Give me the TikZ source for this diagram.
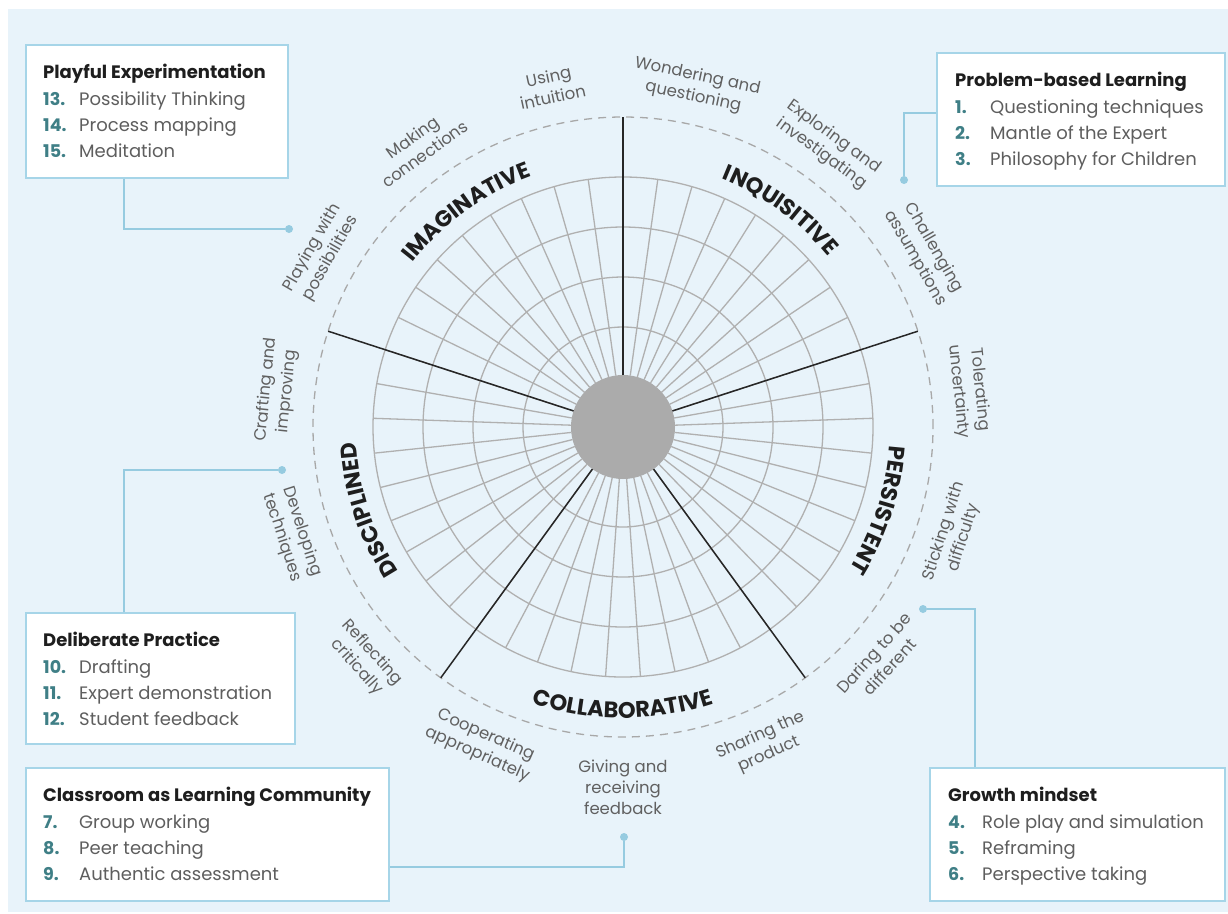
\documentclass[tikz,border=0pt]{standalone}
\usepackage{fontspec}
\setmainfont{Poppins}
\usetikzlibrary{decorations.text}
\definecolor{bgc}{HTML}{E8F3FA}
\definecolor{boxc}{HTML}{A6D5E8}
\definecolor{connc}{HTML}{96CBE0}
\definecolor{tealc}{HTML}{3F7F86}
\definecolor{itemc}{HTML}{5E5E5E}
\definecolor{headc}{HTML}{1E1E1E}
\definecolor{subc}{HTML}{606060}
\definecolor{gridc}{HTML}{B0B0B0}
\definecolor{discc}{HTML}{ABABAB}
\definecolor{dashc}{HTML}{A8A8A8}
\newcommand\bigfont{\fontsize{22.5}{22.5}\selectfont\bfseries}
\tikzset{
  gridline/.style={draw=gridc, line width=1.3pt},
  sectorline/.style={draw=black!85, line width=1.5pt},
  dashring/.style={draw=dashc, line width=1.3pt, dash pattern=on 8pt off 6pt},
  panel/.style={draw=boxc, fill=white, line width=1.5pt, anchor=north west, inner sep=0pt},
  conn/.style={draw=connc, line width=1.5pt},
  cdot/.style={circle, fill=connc, inner sep=0pt, minimum size=8pt},
  head/.style={anchor=base west, inner sep=0pt, font=\fontsize{18}{18}\selectfont\bfseries, text=headc},
  num/.style={anchor=base west, inner sep=0pt, font=\fontsize{17.5}{17.5}\selectfont\bfseries, text=tealc},
  item/.style={anchor=base west, inner sep=0pt, font=\fontsize{18}{18}\selectfont, text=itemc},
  sub/.style={align=center, inner sep=0pt, font=\fontsize{16.5}{21}\selectfont, text=subc},
  arclabel/.style={decorate, decoration={text along path, text align=center, text color=headc, text={|\bigfont|#1}}},
}
\newcommand\prow[6]{% name, xnum, xtext, baseline, number, text
  \node[num] (#1n) at (#2,-#4) {#5};
  \node[item] (#1t) at (#3,-#4) {#6};}
\begin{document}
\begin{tikzpicture}[x=1pt,y=1pt]
\useasboundingbox (0,0) rectangle (1228,-913);
\fill[bgc] (8,-9) rectangle (1228,-912);

% ---------- wheel ----------
\begin{scope}[shift={(623,-427)}]
  \foreach \k in {0,...,44} \draw[gridline] (90+8*\k:52) -- (90+8*\k:250);
  \foreach \r in {100,150,200,250} \draw[gridline] (0,0) circle (\r);
  \fill[discc] (0,0) circle (52);
  \draw[dashring] (0,0) circle (310);
  \foreach \a in {90,18,-54,-126,162} \draw[sectorline] (\a:52) -- (\a:310);

  % sector titles
  \path[arclabel=IMAGINATIVE] (150:267) arc[start angle=150, end angle=102, radius=267];
  \path[arclabel=INQUISITIVE] (78:267) arc[start angle=78, end angle=30, radius=267];
  \path[arclabel=PERSISTENT] (6:267) arc[start angle=6, end angle=-42, radius=267];
  \path[arclabel=COLLABORATIVE] (-114:291) arc[start angle=-114, end angle=-66, radius=291];
  \path[arclabel=DISCIPLINED] (222:267) arc[start angle=222, end angle=174, radius=267];

  % sub labels
  \node[sub, rotate=12]  (s1)  at (102:348) {Using\\intuition};
  \node[sub, rotate=36]  (s2)  at (126:348) {Making\\connections};
  \node[sub, rotate=60]  (s3)  at (150:348) {Playing with\\possibilities};
  \node[sub, rotate=-12] (s4)  at (78:348)  {Wondering and\\questioning};
  \node[sub, rotate=-36] (s5)  at (54:348)  {Exploring and\\investigating};
  \node[sub, rotate=-60] (s6)  at (30:348)  {Challenging\\assumptions};
  \node[sub, rotate=-84] (s7)  at (6:348)   {Tolerating\\uncertainty};
  \node[sub, rotate=72]  (s8)  at (-18:348) {Sticking with\\difficulty};
  \node[sub, rotate=48]  (s9)  at (-42:348) {Daring to be\\different};
  \node[sub, rotate=24]  (s10) at (-66:348) {Sharing the\\product};
  \node[sub]             (s11) at (-90:360) {Giving and\\receiving\\feedback};
  \node[sub, rotate=-24] (s12) at (-114:348) {Cooperating\\appropriately};
  \node[sub, rotate=84]  (s13) at (174:348) {Crafting and\\improving};
  \node[sub, rotate=-72] (s14) at (198:348) {Developing\\techniques};
  \node[sub, rotate=-48] (s15) at (222:348) {Reflecting\\critically};
\end{scope}

% ---------- panels ----------
\node[panel, minimum width=262, minimum height=133] (pe) at (25,-44) {};
\node[head] (peh) at (43,-78) {Playful Experimentation};
\prow{pe1}{43}{79}{105}{13.}{Possibility Thinking}
\prow{pe2}{43}{79}{131}{14.}{Process mapping}
\prow{pe3}{43}{79}{157}{15.}{Meditation}

\node[panel, minimum width=288, minimum height=133] (pbl) at (936,-52) {};
\node[head] (pblh) at (955,-86) {Problem-based Learning};
\prow{pb1}{955}{990}{113}{1.}{Questioning techniques}
\prow{pb2}{955}{990}{139}{2.}{Mantle of the Expert}
\prow{pb3}{955}{990}{165}{3.}{Philosophy for Children}

\node[panel, minimum width=269, minimum height=131] (dp) at (25,-612) {};
\node[head] (dph) at (43,-646) {Deliberate Practice};
\prow{dp1}{43}{79}{673}{10.}{Drafting}
\prow{dp2}{43}{79}{699}{11.}{Expert demonstration}
\prow{dp3}{43}{79}{725}{12.}{Student feedback}

\node[panel, minimum width=363, minimum height=133] (cl) at (25,-767) {};
\node[head] (clh) at (43,-801) {Classroom as Learning Community};
\prow{cl1}{43}{79}{828}{7.}{Group working}
\prow{cl2}{43}{79}{854}{8.}{Peer teaching}
\prow{cl3}{43}{79}{880}{9.}{Authentic assessment}

\node[panel, minimum width=295, minimum height=133] (gm) at (929,-767) {};
\node[head] (gmh) at (948,-801) {Growth mindset};
\prow{gm1}{948}{982}{828}{4.}{Role play and simulation}
\prow{gm2}{948}{982}{854}{5.}{Reframing}
\prow{gm3}{948}{982}{880}{6.}{Perspective taking}

% ---------- connectors ----------
\node[cdot] (pedot) at (289,-229) {};
\node[cdot] (pbldot) at (904,-180) {};
\node[cdot] (dpdot) at (282,-470) {};
\node[cdot] (cldot) at (624,-837) {};
\node[cdot] (gmdot) at (923,-609) {};
\draw[conn] ([xshift=99pt]pe.south west) |- (pedot);
\draw[conn] ([yshift=-61pt]pbl.north west) -| (pbldot);
\draw[conn] ([xshift=99pt]dp.north west) |- (dpdot);
\draw[conn] ([yshift=-100pt]cl.north east) -| (cldot);
\draw[conn] ([xshift=46pt]gm.north west) |- (gmdot);
\end{tikzpicture}
\end{document}
